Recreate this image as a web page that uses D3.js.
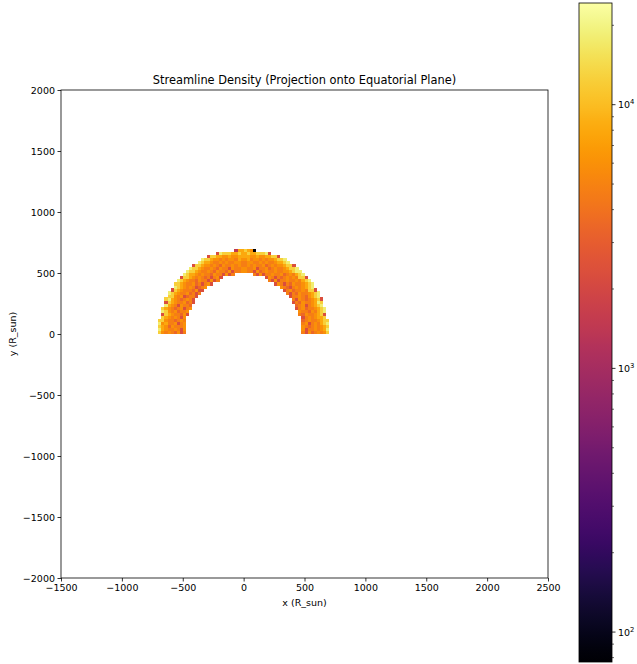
<!DOCTYPE html>
<html>
<head>
<meta charset="utf-8">
<script src="https://cdn.jsdelivr.net/npm/d3@7"></script>
<style>
  html, body { margin: 0; padding: 0; background: #fff; }
  svg { display: block; }
  text { font-family: "DejaVu Sans", sans-serif; fill: #000; }
</style>
</head>
<body>
<div id="chart"></div>
<script>
// ---------------- data ----------------
const title = "Streamline Density (Projection onto Equatorial Plane)";
const xLabel = "x (R_sun)";
const yLabel = "y (R_sun)";
const xTicks = [-1500, -1000, -500, 0, 500, 1000, 1500, 2000, 2500];
const yTicks = [-2000, -1500, -1000, -500, 0, 500, 1000, 1500, 2000];
const xDomain = [-1500, 2500];
const yDomain = [-2000, 2000];
const colorDomain = [77, 24300];
const colorbarMajor = [100, 1000, 10000];
// histogram bins: 25 x 25 R_sun, starting at x = -700, y = 0
const binSize = 25;
const binX0 = -700;
const binY0 = 0;
// count level per character (log colour scale)
const levelCounts = { "0": 80, "1": 1500, "2": 2300, "3": 3500, "4": 4800, "5": 6000, "6": 8000, "7": 12500, "8": 18000 };
// rows from y = 0 upward, each 56 bins from x = -700 to 700 ('.' = empty)
const densityRows = [
  "754543524......................................425345457",
  "865445425......................................524454568",
  "765354445......................................543454567",
  "856445245......................................452454678",
  "775443454......................................345445677",
  ".76545425......................................24545667.",
  ".276544352....................................435445672.",
  ".875453445....................................544354678.",
  ".7654345245..................................2453445678.",
  "..865425443..................................345245678..",
  "..2765445342................................2435445687..",
  "..7865434542................................4254345672..",
  "...7754523442..............................2445435678...",
  "...87654453424............................42435445678...",
  "....27654443522..........................24534454772....",
  ".....87654542345........................54324545678.....",
  ".....7765445342452....................2542435445678.....",
  "......87654435442524................42524454454678......",
  ".......27765454342452..............25424345454772.......",
  "........87665454435442524......42524454453454678........",
  ".........87765445435443524455442534544544556788.........",
  "..........877654454354425445544524453454456778..........",
  "...........2776554543544545445454453454556772...........",
  ".............876654454544554455445454456678.............",
  "..............8776554545546556455454556778..............",
  "................277665565566665565566772................",
  "...................287776676676677782...................",
  ".........................1667650........................"
];

// ---------------- layout ----------------
const W = 637, H = 664;
const svg = d3.select("#chart").append("svg").attr("width", W).attr("height", H);

const x = d3.scaleLinear().domain(xDomain).range([61, 548]);
const y = d3.scaleLinear().domain(yDomain).range([578, 90]);
const color = d3.scaleSequentialLog(d3.interpolateInferno).domain(colorDomain);

// cells
const cells = [];
densityRows.forEach((row, j) => {
  for (let i = 0; i < row.length; i++) {
    const ch = row[i];
    if (ch === ".") continue;
    cells.push({ x0: binX0 + i * binSize, y0: binY0 + j * binSize, v: levelCounts[ch] });
  }
});

svg.append("g")
  .attr("shape-rendering", "crispEdges")
  .selectAll("rect")
  .data(cells)
  .join("rect")
  .attr("x", d => x(d.x0))
  .attr("y", d => y(d.y0 + binSize))
  .attr("width", d => x(d.x0 + binSize) - x(d.x0) + 0.3)
  .attr("height", d => y(d.y0) - y(d.y0 + binSize) + 0.3)
  .attr("fill", d => color(d.v));

// axes
const fs = 9.5;
const gx = svg.append("g").attr("transform", "translate(0,578)")
  .call(d3.axisBottom(x).tickValues(xTicks).tickSize(3.5).tickPadding(2.5).tickFormat(d3.format("d")));
const gy = svg.append("g").attr("transform", "translate(61,0)")
  .call(d3.axisLeft(y).tickValues(yTicks).tickSize(3.5).tickPadding(2.5).tickFormat(d3.format("d")));
[gx, gy].forEach(g => {
  g.select(".domain").remove();
  g.selectAll("line").attr("stroke", "#000").attr("stroke-width", 0.8);
  g.selectAll("text").attr("font-size", fs).attr("font-family", "DejaVu Sans");
});

// frame
svg.append("rect")
  .attr("x", x(xDomain[0])).attr("y", y(yDomain[1]))
  .attr("width", x(xDomain[1]) - x(xDomain[0]))
  .attr("height", y(yDomain[0]) - y(yDomain[1]))
  .attr("fill", "none").attr("stroke", "#000").attr("stroke-width", 0.8);

// title & labels
svg.append("text").attr("x", (x(xDomain[0]) + x(xDomain[1])) / 2).attr("y", 84)
  .attr("text-anchor", "middle").attr("font-size", 11.4).text(title);
svg.append("text").attr("x", (x(xDomain[0]) + x(xDomain[1])) / 2).attr("y", 606)
  .attr("text-anchor", "middle").attr("font-size", fs).text(xLabel);
svg.append("text")
  .attr("transform", `translate(16,${(y(yDomain[0]) + y(yDomain[1])) / 2}) rotate(-90)`)
  .attr("text-anchor", "middle").attr("font-size", fs).text(yLabel);

// colorbar
const cb = { x: 579, w: 33, top: 3, bottom: 662 };
const c = d3.scaleLog().domain(colorDomain).range([cb.bottom, cb.top]);
const defs = svg.append("defs");
const grad = defs.append("linearGradient").attr("id", "cbgrad")
  .attr("x1", 0).attr("y1", 1).attr("x2", 0).attr("y2", 0);
d3.range(0, 1.0001, 0.02).forEach(t => {
  grad.append("stop").attr("offset", t).attr("stop-color", d3.interpolateInferno(t));
});
svg.append("rect").attr("x", cb.x).attr("y", cb.top).attr("width", cb.w).attr("height", cb.bottom - cb.top)
  .attr("fill", "url(#cbgrad)").attr("stroke", "#000").attr("stroke-width", 0.8);

// colorbar ticks
const minorTicks = [];
for (let e = 1; e <= 4; e++) {
  for (let m = 2; m <= 9; m++) {
    const v = m * Math.pow(10, e);
    if (v >= colorDomain[0] && v <= colorDomain[1]) minorTicks.push(v);
  }
}
svg.append("g").selectAll("line").data(minorTicks).join("line")
  .attr("x1", cb.x + cb.w).attr("x2", cb.x + cb.w + 2)
  .attr("y1", d => c(d)).attr("y2", d => c(d))
  .attr("stroke", "#000").attr("stroke-width", 0.6);
svg.append("g").selectAll("line").data(colorbarMajor).join("line")
  .attr("x1", cb.x + cb.w).attr("x2", cb.x + cb.w + 3.5)
  .attr("y1", d => c(d)).attr("y2", d => c(d))
  .attr("stroke", "#000").attr("stroke-width", 0.8);
const lbl = svg.append("g").selectAll("text").data(colorbarMajor).join("text")
  .attr("x", cb.x + cb.w + 6).attr("y", d => c(d) + 3.5).attr("font-size", fs);
lbl.append("tspan").text("10");
lbl.append("tspan").attr("dy", -4).attr("font-size", 6.8).text(d => Math.round(Math.log10(d)));
</script>
</body>
</html>
